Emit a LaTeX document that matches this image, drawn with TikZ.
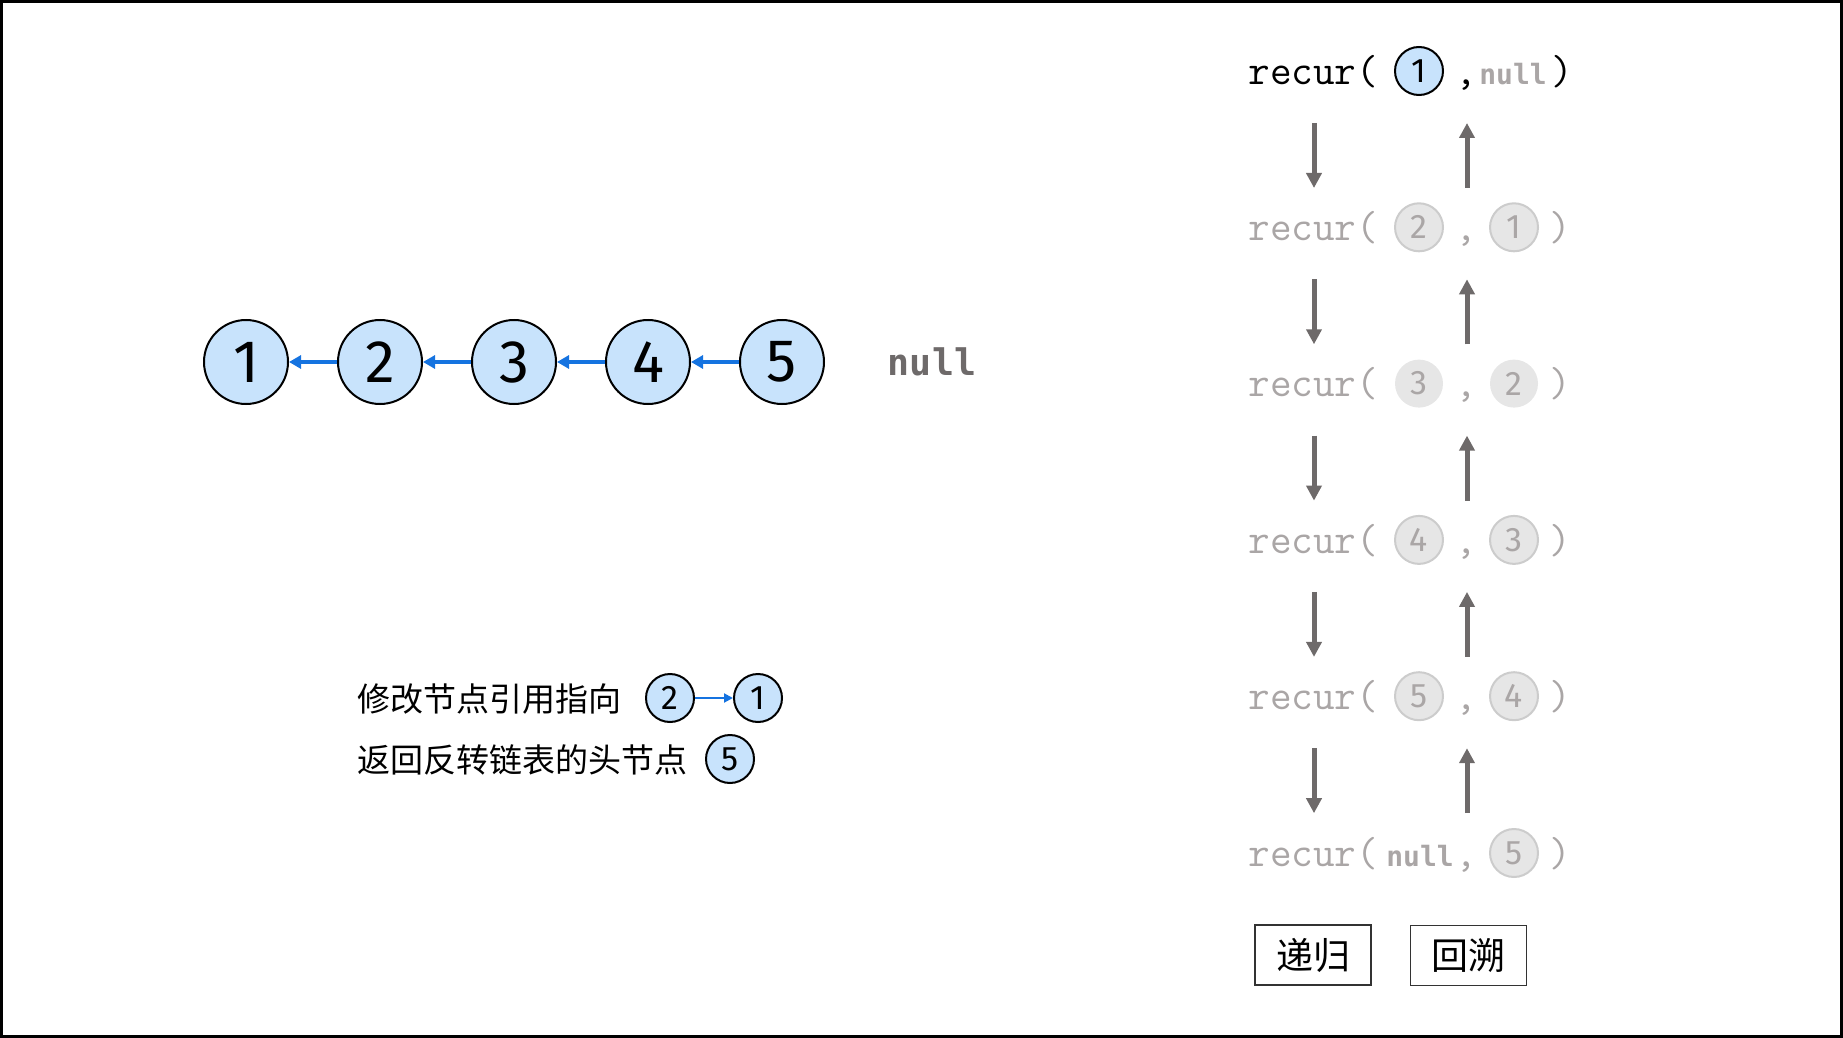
\documentclass[tikz,border=0pt]{standalone}
\usepackage{fontspec}
\setmainfont{Fira Sans}
\newfontfamily\cjk{Noto Sans CJK SC}
\newfontfamily\codefont{Latin Modern Mono}
\newfontfamily\keyfont{DejaVu Sans Mono}
\usetikzlibrary{arrows.meta}
\definecolor{nodeblue}{HTML}{C8E3FC}
\definecolor{linkblue}{HTML}{1573E0}
\definecolor{fadetext}{HTML}{AAA6A6}
\definecolor{fadefill}{HTML}{E6E6E6}
\definecolor{fadeline}{HTML}{CCCCCC}
\definecolor{callgray}{HTML}{6E6A6A}
\begin{document}
\begin{tikzpicture}[x=0.5pt,y=-0.5pt,
  bignode/.style={circle,draw,line width=1pt,fill=nodeblue,minimum size=42pt,inner sep=0pt,font=\fontsize{30}{30}\selectfont},
  smallnode/.style={circle,draw,line width=1pt,fill=nodeblue,minimum size=24pt,inner sep=0pt,font=\fontsize{17}{17}\selectfont},
  fadenode/.style={smallnode,fill=fadefill,draw=fadeline,text=fadetext},
  plainfade/.style={fadenode,draw=none},
  code/.style={anchor=mid,inner sep=0pt,yshift=-3.5pt,font=\codefont\fontsize{21}{21}\selectfont},
  nullword/.style={anchor=mid,inner sep=0pt,yshift=-3.5pt,text=fadetext,font=\keyfont\bfseries\fontsize{14}{14}\selectfont},
  callarrow/.style={-{Triangle[length=7.5pt,width=7.5pt]},line width=2.5pt,draw=callgray},
  link/.style={-{Triangle[length=6pt,width=6.5pt]},line width=2pt,draw=linkblue},
  tiplink/.style={-{Triangle[length=4.5pt,width=4.5pt]},line width=1pt,draw=linkblue},
  tip/.style={anchor=west,inner sep=0pt,font=\cjk\fontsize{16.5}{16.5}\selectfont},
  labelbox/.style={draw=black!80,line width=0.75pt,minimum width=58pt,minimum height=30pt,inner sep=0pt,font=\cjk\fontsize{18.5}{18.5}\selectfont}]
\useasboundingbox (0,0) rectangle (1843,1038);
\draw[line width=1.5pt] (1.5,1.5) rectangle (1841.5,1036.5);

\foreach \v in {1,...,5} {\node[bignode] (n\v) at ({246+134*(\v-1)},362) {\v};}
\foreach \a/\b in {2/1,3/2,4/3,5/4} {\draw[link] (n\a) -- (n\b);}
\node[anchor=mid,inner sep=0pt,yshift=-4pt,text=callgray,font=\keyfont\bfseries\fontsize{18.3}{18.3}\selectfont] (tail) at (932,362) {null};

\node[code,anchor=mid west] (call1) at (1248,72) {recur(};
\node[smallnode] (a1) at (1419,71) {1};
\node[code] (c1) at (1466,72) {,};
\node[nullword] (b1) at (1513,72) {null};
\node[code] (p1) at (1562,72) {)};
\foreach \r/\a/\b/\s in {2/2/1/fadenode,3/3/2/plainfade,4/4/3/fadenode,5/5/4/fadenode} {
  \pgfmathsetmacro\y{72+156.3*(\r-1)}
  \node[code,anchor=mid west,text=fadetext] (call\r) at (1248,\y) {recur(};
  \node[\s] (a\r) at (1419,\y-1) {\a};
  \node[code,text=fadetext] (c\r) at (1466,\y) {,};
  \node[\s] (b\r) at (1514,\y-1) {\b};
  \node[code,text=fadetext] (p\r) at (1560,\y) {)};
}
\node[code,anchor=mid west,text=fadetext] (call6) at (1248,854) {recur(};
\node[nullword] (a6) at (1420,854) {null};
\node[code,text=fadetext] (c6) at (1466,854) {,};
\node[fadenode] (b6) at (1514,853) {5};
\node[code,text=fadetext] (p6) at (1560,854) {)};
\foreach \k in {1,...,5} {
  \pgfmathsetmacro\ytop{73+156.3*(\k-1)+50}
  \pgfmathsetmacro\ybot{\ytop+65}
  \draw[callarrow] (1314,\ytop) coordinate (go\k) -- (1314,\ybot);
  \draw[callarrow] (1467,\ybot) coordinate (back\k) -- (1467,\ytop);
}

\node[tip] (tip1) at (357,699) {修改节点引用指向};
\node[smallnode] (m2) at (670,698) {2};
\node[smallnode] (m1) at (758,698) {1};
\draw[tiplink] (m2) -- (m1);
\node[tip] (tip2) at (357,760) {返回反转链表的头节点};
\node[smallnode] (h5) at (730,759) {5};

\node[labelbox] (down) at (1313,955) {递归};
\node[labelbox] (up) at (1468.5,955.5) {回溯};
\end{tikzpicture}
\end{document}
